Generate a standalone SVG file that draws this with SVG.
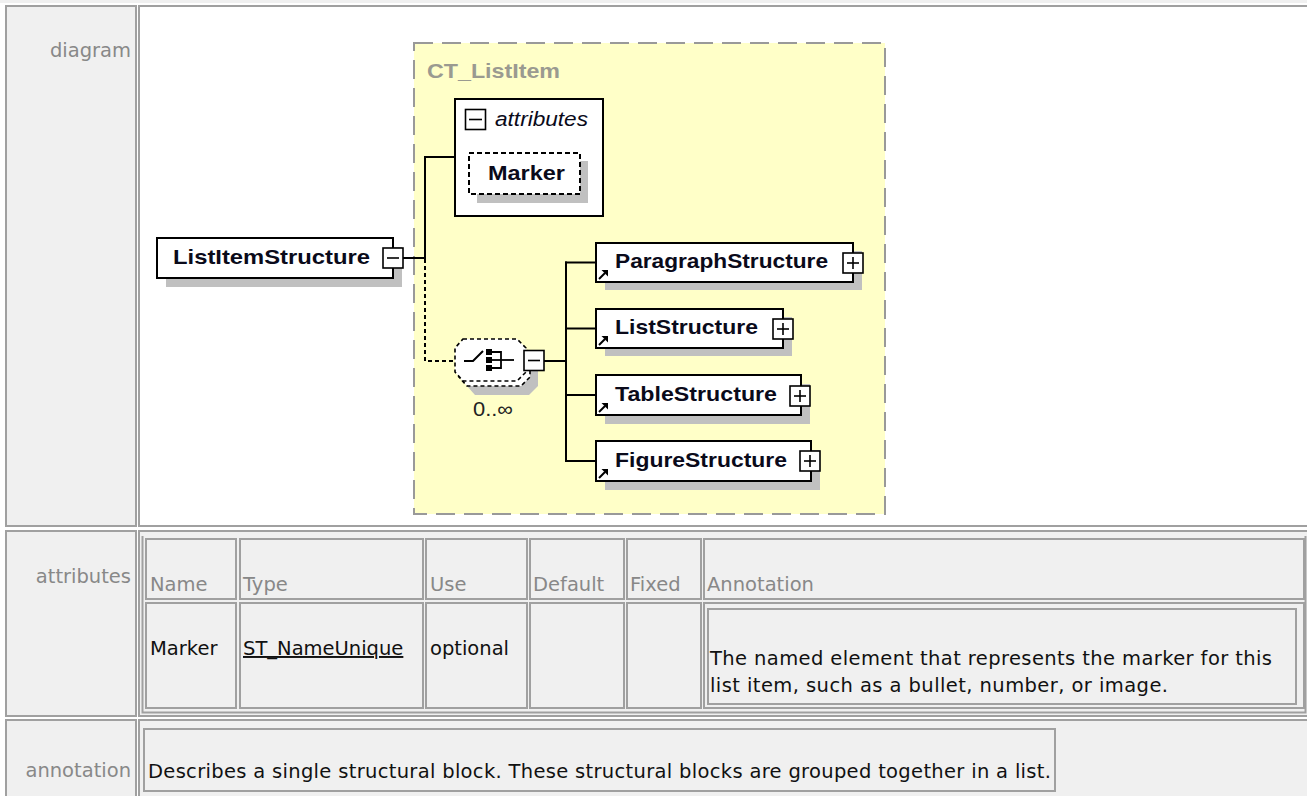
<svg xmlns="http://www.w3.org/2000/svg" width="1307" height="796" viewBox="0 0 1307 796">
<style>
.cellL{fill:#f0f0f0;stroke:#a0a0a0;stroke-width:2}
.cellR{fill:#ffffff;stroke:#a0a0a0;stroke-width:2}
.cellG{fill:#f0f0f0;stroke:#a0a0a0;stroke-width:2}
.lbl{font-family:"DejaVu Sans",Verdana,sans-serif;font-size:19.5px;fill:#888888}
.dat{font-family:"DejaVu Sans",Verdana,sans-serif;font-size:19.5px;fill:#111111}
.nm{font-family:"Liberation Sans",Arial,sans-serif;font-weight:bold;font-size:21px;fill:#0a0a1a}
.box{fill:#ffffff;stroke:#000000;stroke-width:2}
.shadow{fill:#c0c0c0}
.pm{fill:#ffffff;stroke:#000000;stroke-width:1.6}
.pmline{stroke:#000000;stroke-width:1.6;fill:none}
.conn{stroke:#000000;stroke-width:2;fill:none}
.dconn{stroke:#000000;stroke-width:2;fill:none;stroke-dasharray:4,3}
</style>
<defs>
<g id="refArrow">
<line x1="0" y1="9" x2="6" y2="3" stroke="#000" stroke-width="2"/>
<polygon points="9,0 9,6.5 2.5,0" fill="#000"/>
</g>
<g id="plus">
<rect class="pm" x="0" y="0" width="20" height="20"/>
<line class="pmline" x1="4" y1="10" x2="16" y2="10"/>
<line class="pmline" x1="10" y1="4" x2="10" y2="16"/>
</g>
</defs>
<rect x="0" y="0" width="1307" height="796" fill="#ffffff"/>
<rect x="0" y="0" width="1307" height="3" fill="#f0f0f0"/>

<g id="table-frame">
<rect class="cellL" x="6" y="6" width="130" height="520"/>
<rect class="cellR" x="139" y="6" width="1175" height="520"/>
<rect class="cellL" x="6" y="531" width="130" height="185"/>
<rect class="cellG" x="139" y="531" width="1175" height="185"/>
<rect class="cellL" x="6" y="720" width="130" height="90"/>
<rect class="cellG" x="139" y="720" width="1175" height="90"/>
<polyline points="142.5,536 142.5,712.5 1305.5,712.5 1305.5,536" fill="none" stroke="#a0a0a0" stroke-width="2"/>
<rect class="cellG" x="146" y="539" width="90" height="60"/>
<rect class="cellG" x="240" y="539" width="183" height="60"/>
<rect class="cellG" x="426" y="539" width="101" height="60"/>
<rect class="cellG" x="530" y="539" width="94" height="60"/>
<rect class="cellG" x="627" y="539" width="74" height="60"/>
<rect class="cellG" x="704" y="539" width="600" height="60"/>
<rect class="cellG" x="146" y="603" width="90" height="105"/>
<rect class="cellG" x="240" y="603" width="183" height="105"/>
<rect class="cellG" x="426" y="603" width="101" height="105"/>
<rect class="cellG" x="530" y="603" width="94" height="105"/>
<rect class="cellG" x="627" y="603" width="74" height="105"/>
<rect class="cellG" x="704" y="603" width="600" height="105"/>
<rect class="cellG" x="708" y="609" width="588" height="95"/>
<rect class="cellG" x="144" y="729" width="911" height="62"/>
</g>

<g id="table-text">
<text class="lbl" x="131" y="57" text-anchor="end">diagram</text>
<text class="lbl" x="131" y="583" text-anchor="end">attributes</text>
<text class="lbl" x="131" y="777" text-anchor="end">annotation</text>
<text class="lbl" x="150" y="591">Name</text>
<text class="lbl" x="243" y="591">Type</text>
<text class="lbl" x="430" y="591">Use</text>
<text class="lbl" x="533" y="591">Default</text>
<text class="lbl" x="630" y="591">Fixed</text>
<text class="lbl" x="707" y="591">Annotation</text>
<text class="dat" x="150" y="655">Marker</text>
<text class="dat" x="243" y="655" text-decoration="underline">ST_NameUnique</text>
<text class="dat" x="430" y="655">optional</text>
<text class="dat" x="710" y="665" textLength="562" lengthAdjust="spacing">The named element that represents the marker for this</text>
<text class="dat" x="710" y="692" textLength="458" lengthAdjust="spacing">list item, such as a bullet, number, or image.</text>
<text class="dat" x="148" y="778" textLength="903" lengthAdjust="spacing">Describes a single structural block. These structural blocks are grouped together in a list.</text>
</g>

<g id="ct-listitem">
<rect x="414" y="43" width="471" height="471" fill="#ffffc8" stroke="#999999" stroke-width="2" stroke-dasharray="19,9"/>
<text x="427" y="78" font-family="Liberation Sans, Arial, sans-serif" font-weight="bold" font-size="21" fill="#9a9a90" textLength="133" lengthAdjust="spacingAndGlyphs">CT_ListItem</text>
</g>

<g id="connectors">
<line class="conn" x1="403" y1="258" x2="426" y2="258"/>
<line class="conn" x1="425" y1="156" x2="425" y2="259"/>
<line class="conn" x1="424" y1="157" x2="455" y2="157"/>
<polyline class="dconn" points="425,259 425,361 455,361"/>
<line class="conn" x1="544" y1="361" x2="566" y2="361"/>
<line class="conn" x1="566" y1="261.5" x2="566" y2="462"/>
<line class="conn" x1="565" y1="262.5" x2="596" y2="262.5"/>
<line class="conn" x1="565" y1="328.5" x2="596" y2="328.5"/>
<line class="conn" x1="565" y1="395" x2="596" y2="395"/>
<line class="conn" x1="565" y1="461" x2="596" y2="461"/>
</g>

<g id="node-listitemstructure">
<rect class="shadow" x="166" y="247" width="236" height="40"/>
<rect class="box" x="157" y="238" width="236" height="40"/>
<text class="nm" x="173" y="264" textLength="197" lengthAdjust="spacingAndGlyphs">ListItemStructure</text>
<rect class="pm" x="383" y="248" width="20" height="20"/>
<line class="pmline" x1="387" y1="258" x2="399" y2="258"/>
</g>

<g id="node-attributes">
<rect class="box" x="455" y="99" width="148" height="117"/>
<rect class="pm" x="465.5" y="109.5" width="20" height="20"/>
<line class="pmline" x1="469" y1="119.5" x2="482" y2="119.5"/>
<text x="495" y="126" font-family="Liberation Sans, Arial, sans-serif" font-style="italic" font-size="20" fill="#0a0a1a" textLength="93" lengthAdjust="spacingAndGlyphs">attributes</text>
<g id="node-marker">
<rect class="shadow" x="477" y="161" width="111" height="42"/>
<rect x="469" y="153" width="111" height="41" fill="#ffffff" stroke="#000" stroke-width="2" stroke-dasharray="5,3"/>
<text class="nm" x="488" y="180" textLength="77" lengthAdjust="spacingAndGlyphs">Marker</text>
</g>
</g>

<g id="node-choice">
<polygon class="shadow" points="475,353 529,353 538,362 538,386 529,395 475,395 467,386 467,362"/>
<polygon points="467,344 521,344 530,353 530,377 521,386 467,386 459,377 459,353" fill="#ffffff" stroke="#000" stroke-width="1.6" stroke-dasharray="4,3"/>
<polygon points="463,339 517,339 526,348 526,372 517,381 463,381 455,372 455,348" fill="#ffffff" stroke="#000" stroke-width="1.6" stroke-dasharray="4,3"/>
<polyline points="464,361 473,361 483,351" fill="none" stroke="#000" stroke-width="2"/>
<rect x="486" y="349" width="6" height="6" fill="#000"/>
<rect x="486" y="357" width="6" height="6" fill="#000"/>
<rect x="486" y="365" width="6" height="6" fill="#000"/>
<polyline points="492,352 501,352 501,368 492,368" fill="none" stroke="#000" stroke-width="1.8"/>
<line x1="492" y1="360" x2="514" y2="360" stroke="#000" stroke-width="1.8"/>
<rect class="pm" x="524" y="350.5" width="20" height="20"/>
<line class="pmline" x1="528" y1="360.5" x2="540" y2="360.5"/>
<text x="473" y="416" font-family="Liberation Sans, Arial, sans-serif" font-size="20" fill="#222222" textLength="40" lengthAdjust="spacingAndGlyphs">0..∞</text>
</g>

<g id="node-paragraphstructure">
<rect class="shadow" x="605" y="251" width="257" height="39"/>
<rect class="box" x="596" y="243" width="257" height="39"/>
<use href="#refArrow" x="599" y="270"/>
<text class="nm" x="615" y="268" textLength="213" lengthAdjust="spacingAndGlyphs">ParagraphStructure</text>
<use href="#plus" x="843" y="253"/>
</g>

<g id="node-liststructure">
<rect class="shadow" x="605" y="317" width="187" height="39"/>
<rect class="box" x="596" y="309" width="187" height="39"/>
<use href="#refArrow" x="599" y="336"/>
<text class="nm" x="615" y="334" textLength="143" lengthAdjust="spacingAndGlyphs">ListStructure</text>
<use href="#plus" x="773" y="319"/>
</g>

<g id="node-tablestructure">
<rect class="shadow" x="605" y="384" width="205" height="40"/>
<rect class="box" x="596" y="375" width="205" height="40"/>
<use href="#refArrow" x="599" y="403"/>
<text class="nm" x="615" y="401" textLength="162" lengthAdjust="spacingAndGlyphs">TableStructure</text>
<use href="#plus" x="790" y="386"/>
</g>

<g id="node-figurestructure">
<rect class="shadow" x="605" y="450" width="215" height="40"/>
<rect class="box" x="596" y="441" width="215" height="40"/>
<use href="#refArrow" x="599" y="469"/>
<text class="nm" x="615" y="467" textLength="172" lengthAdjust="spacingAndGlyphs">FigureStructure</text>
<use href="#plus" x="800" y="451"/>
</g>
</svg>
